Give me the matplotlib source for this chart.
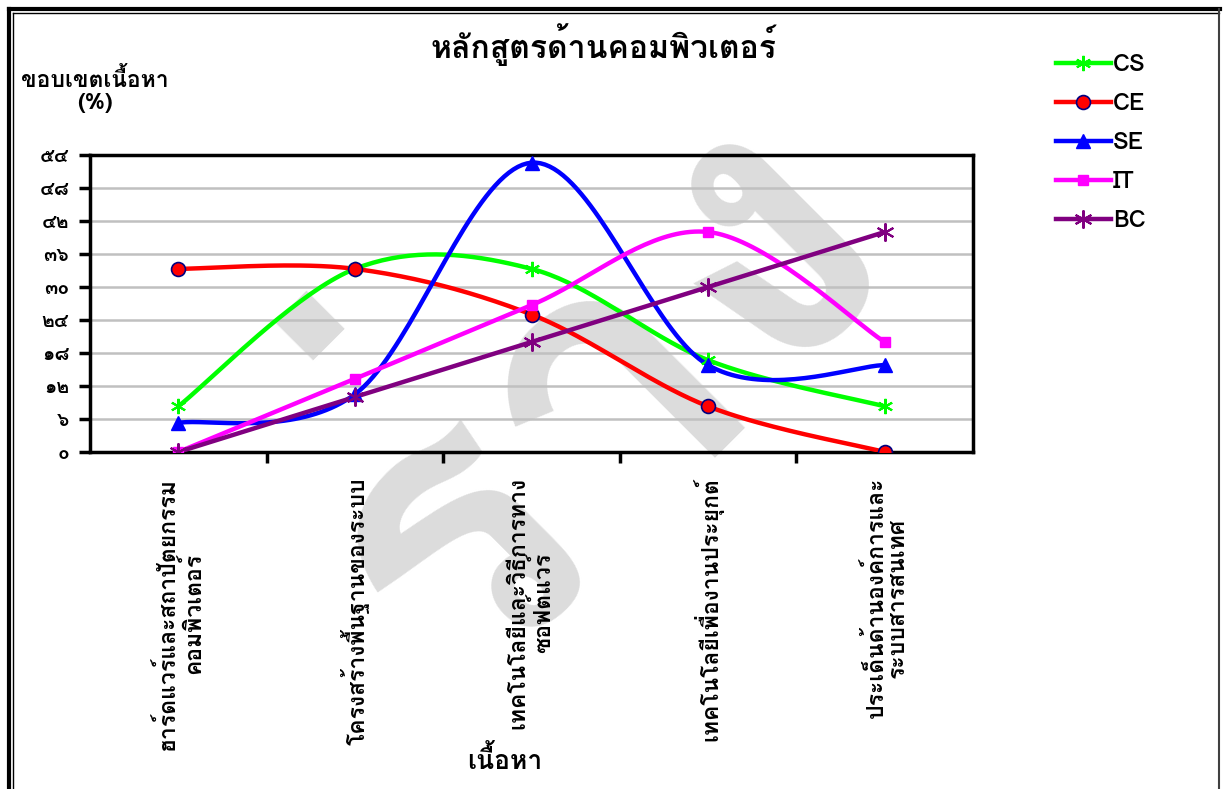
import matplotlib
matplotlib.use("Agg")
import matplotlib.pyplot as plt
import numpy as np
from matplotlib.lines import Line2D

plt.rcParams['font.family'] = ['Loma', 'DejaVu Sans']

# ข้อมูล (% ของขอบเขตเนื้อหา)
categories = ["ฮาร์ดแวร์และสถาปัตยกรรม\nคอมพิวเตอร์",
              "โครงสร้างพื้นฐานของระบบ",
              "เทคโนโลยีและวิธีการทาง\nซอฟต์แวร์",
              "เทคโนโลยีเพื่องานประยุกต์",
              "ประเด็นด้านองค์การและ\nระบบสารสนเทศ"]
series_names = ["CS", "CE", "SE", "IT", "BC"]
cs = [8.3, 33.3, 33.3, 16.7, 8.3]
ce = [33.3, 33.3, 25.0, 8.3, 0.0]
se = [5.3, 10.5, 52.6, 15.8, 15.8]
it = [0.0, 13.3, 26.7, 40.0, 20.0]
bc = [0.0, 10.0, 20.0, 30.0, 40.0]
yticks = [0, 6, 12, 18, 24, 30, 36, 42, 48, 54]
ytick_labels = ["๐", "๖", "๑๒", "๑๘", "๒๔", "๓๐", "๓๖", "๔๒", "๔๘", "๕๔"]

styles = {
    "CS": dict(color="#00ff00", marker=(6, 2, 0), ms=11, mfc="#00ff00", mec="#00ff00", mew=1.5),
    "CE": dict(color="#ff0000", marker="o", ms=10, mfc="#ff0000", mec="#000080", mew=1.2),
    "SE": dict(color="#0000ff", marker="^", ms=10, mfc="#0000ff", mec="#0000ff", mew=1),
    "IT": dict(color="#ff00ff", marker="s", ms=7, mfc="#ff00ff", mec="#ff00ff", mew=1),
    "BC": dict(color="#800080", marker=(6, 2, 0), ms=13, mfc="#800080", mec="#800080", mew=1.5),
}


def smooth(x, y, n=40):
    # เส้นโค้งแบบ Excel (Bezier ที่มีจุดควบคุม 1/6)
    x = np.asarray(x, float)
    y = np.asarray(y, float)
    px = np.concatenate([[x[0]], x, [x[-1]]])
    py = np.concatenate([[y[0]], y, [y[-1]]])
    t = np.linspace(0, 1, n)
    xs, ys = [], []
    for i in range(1, len(x)):
        p0 = np.array([px[i], py[i]])
        p3 = np.array([px[i + 1], py[i + 1]])
        c1 = p0 + (np.array([px[i + 1], py[i + 1]]) - np.array([px[i - 1], py[i - 1]])) / 6
        c2 = p3 - (np.array([px[i + 2], py[i + 2]]) - np.array([px[i], py[i]])) / 6
        b = ((1 - t) ** 3)[:, None] * p0 + (3 * (1 - t) ** 2 * t)[:, None] * c1 \
            + (3 * (1 - t) * t ** 2)[:, None] * c2 + (t ** 3)[:, None] * p3
        xs.append(b[:, 0])
        ys.append(b[:, 1])
    return np.concatenate(xs), np.concatenate(ys)


fig = plt.figure(figsize=(12.23, 7.89), dpi=100)
W, H = 1223, 789

# ลายน้ำ
fig.text(590 / W, 1 - 380 / H, "ร่าง", rotation=45, fontsize=285, color="#dcdcdc",
         fontweight="bold", ha="center", va="center", zorder=-5)

ax = fig.add_axes([90 / W, 1 - 452 / H, (973 - 90) / W, (452 - 155) / H])
ax.set_facecolor("none")

x = np.arange(len(categories))
handles = []
for name, vals in zip(series_names, [cs, ce, se, it, bc]):
    st = styles[name]
    sx, sy = smooth(x, vals)
    ax.plot(sx, sy, color=st["color"], lw=3.2, solid_capstyle="round", zorder=3)
    ax.plot(x, vals, ls="none", marker=st["marker"], ms=st["ms"], mfc=st["mfc"],
            mec=st["mec"], mew=st["mew"], zorder=4)
    handles.append(Line2D([], [], color=st["color"], lw=3.2, marker=st["marker"],
                          ms=st["ms"], mfc=st["mfc"], mec=st["mec"], mew=st["mew"]))

ax.set_xlim(-0.5, len(categories) - 0.5)
ax.set_ylim(0, 54)
ax.set_yticks(yticks)
ax.set_yticklabels(ytick_labels, fontsize=14, fontweight="bold")
ax.yaxis.grid(True, color="#c0c0c0", lw=1.8)
ax.set_axisbelow(True)

ax.set_xticks(x)
ax.set_xticklabels(categories, rotation=90, fontsize=16.5, fontweight="bold",
                   ha="center", va="top", multialignment="center", linespacing=1.05)
ax.set_xticks(np.arange(0.5, len(categories) - 1, 1), minor=True)
ax.tick_params(axis="x", which="major", length=0, pad=18)
ax.tick_params(axis="x", which="minor", length=8, width=2.5, direction="out")
ax.tick_params(axis="y", length=8, width=2.5, direction="out", pad=7)
for sp in ax.spines.values():
    sp.set_linewidth(2.5)
    sp.set_color("black")

fig.text(603 / W, 1 - 45 / H, "หลักสูตรด้านคอมพิวเตอร์", fontsize=23,
         fontweight="bold", ha="center", va="center")
fig.text(95 / W, 1 - 90 / H, "ขอบเขตเนื้อหา\n(%)", fontsize=16.5,
         fontweight="bold", ha="center", va="center", multialignment="center",
         linespacing=1.1)
fig.text(505 / W, 1 - 760 / H, "เนื้อหา", fontsize=19, fontweight="bold",
         ha="center", va="center")

ax.legend(handles, series_names, loc="upper left", bbox_to_anchor=(1035 / W, 1 - 32 / H),
          bbox_transform=fig.transFigure, frameon=False, handlelength=2.3,
          handletextpad=0.1, labelspacing=0.68, prop=dict(size=17, weight="bold"))

# กรอบรูป
fig.add_artist(Line2D([9 / W, 9 / W], [0, 1 - 9 / H], color="black", lw=3, transform=fig.transFigure))
fig.add_artist(Line2D([9 / W, 1220 / W], [1 - 9 / H, 1 - 9 / H], color="black", lw=3, transform=fig.transFigure))
fig.add_artist(Line2D([13 / W, 13 / W], [0, 1 - 13 / H], color="black", lw=1, transform=fig.transFigure))
fig.add_artist(Line2D([13 / W, 1219 / W], [1 - 13 / H, 1 - 13 / H], color="black", lw=1, transform=fig.transFigure))
fig.add_artist(Line2D([1219 / W, 1219 / W], [0, 1 - 9 / H], color="#404040", lw=1.5, transform=fig.transFigure))

fig.savefig("out.png", dpi=100)
